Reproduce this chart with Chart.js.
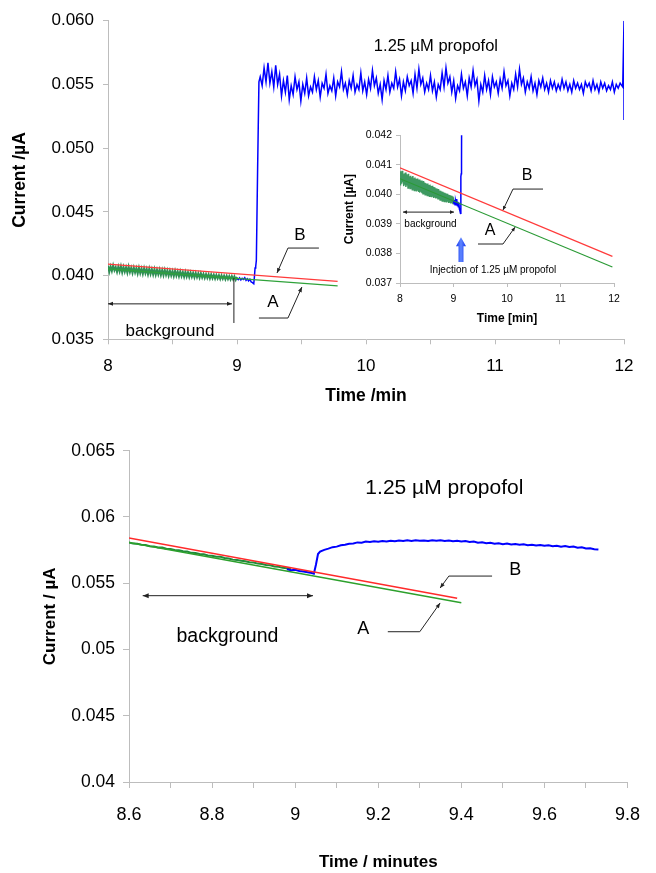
<!DOCTYPE html>
<html>
<head>
<meta charset="utf-8">
<title>Propofol amperometric response</title>
<script src="https://cdn.jsdelivr.net/npm/chart.js@4.4.1/dist/chart.umd.min.js"></script>
<style>
  html, body { margin: 0; padding: 0; background: #fff; }
  #wrap { position: relative; width: 656px; height: 873px; overflow: hidden; }
  canvas { position: absolute; }
  #upper { left: 0; top: 0; }
  #inset { left: 335px; top: 125px; }
  #lower { left: 0; top: 420px; }
</style>
</head>
<body>
<div id="wrap">
  <canvas id="upper" width="656" height="420"></canvas>
  <canvas id="inset" width="300" height="210"></canvas>
  <canvas id="lower" width="656" height="453"></canvas>
</div>
<script>
// ---------- Upper record: 8–12 min, injection of 1.25 µM propofol ----------
// background current (green), sampled every 0.01 min from 8.00 to 9.00 min
const bgStart = 8.00, bgStep = 0.01;
const bgCurrent = [
  0.04078, 0.04030, 0.04072, 0.04036, 0.04080, 0.04041, 0.04066, 0.04028, 0.04071, 0.04033,
  0.04074, 0.04025, 0.04068, 0.04030, 0.04064, 0.04022, 0.04070, 0.04027, 0.04061, 0.04020,
  0.04063, 0.04024, 0.04058, 0.04016, 0.04062, 0.04019, 0.04055, 0.04013, 0.04057, 0.04018,
  0.04052, 0.04010, 0.04054, 0.04012, 0.04049, 0.04008, 0.04050, 0.04006, 0.04046, 0.04009,
  0.04047, 0.04004, 0.04043, 0.04002, 0.04045, 0.04005, 0.04040, 0.03999, 0.04038, 0.04001,
  0.04036, 0.03996, 0.04037, 0.03998, 0.04032, 0.03994, 0.04033, 0.03995, 0.04028, 0.03990,
  0.04029, 0.03992, 0.04025, 0.03988, 0.04024, 0.03990, 0.04021, 0.03986, 0.04020, 0.03987,
  0.04017, 0.03983, 0.04018, 0.03985, 0.04013, 0.03981, 0.04012, 0.03982, 0.04010, 0.03978,
  0.04009, 0.03979, 0.04006, 0.03976, 0.04005, 0.03977, 0.04003, 0.03973, 0.04002, 0.03975,
  0.03999, 0.03971, 0.03998, 0.03972, 0.03996, 0.03969, 0.03995, 0.03970, 0.03993, 0.03967,
  0.03990
];
// response (blue) around the injection
const injTimes = [9.00, 9.01, 9.02, 9.03, 9.04, 9.05, 9.06, 9.07, 9.08, 9.09, 9.10, 9.11, 9.12,
                  9.13, 9.135, 9.14, 9.145, 9.15, 9.16, 9.17];
const injCurrent = [0.03978, 0.03968, 0.03982, 0.03965, 0.03978, 0.03970, 0.03984, 0.03962,
                    0.03975, 0.03958, 0.03972, 0.03950, 0.03945, 0.03936, 0.03990, 0.04060,
                    0.04070, 0.04120, 0.04850, 0.05520];
// steady-state response (blue), every 0.015 min from 9.18 to 11.97 min
const plateauStart = 9.18, plateauStep = 0.015;
const plateauCurrent = [
  0.0556, 0.0549, 0.0563, 0.0552, 0.0567, 0.0551, 0.0560, 0.0548, 0.0565, 0.0550, 0.0558,
  0.0541, 0.0553, 0.0544, 0.0557, 0.0538, 0.0549, 0.0542, 0.0556, 0.0546, 0.0552,
  0.0537, 0.0550, 0.0543, 0.0555, 0.0541, 0.0548, 0.0544, 0.0556,
  0.0546, 0.0553, 0.0540, 0.0551, 0.0547, 0.0558, 0.0543, 0.0549, 0.0545, 0.0555,
  0.0541, 0.0552, 0.0548, 0.0560, 0.0546, 0.0551, 0.0542, 0.0553, 0.0547, 0.0557,
  0.0544, 0.0550, 0.0546, 0.0559, 0.0545, 0.0552,
  0.0542, 0.0554, 0.0547, 0.0561, 0.0549, 0.0555, 0.0543, 0.0550, 0.0538, 0.0553,
  0.0546, 0.0557, 0.0544, 0.0551, 0.0547, 0.0560, 0.0548, 0.0554, 0.0541, 0.0552,
  0.0545, 0.0556, 0.0549, 0.0553, 0.0543, 0.0558, 0.0547, 0.0562, 0.0550, 0.0555,
  0.0544, 0.0551, 0.0546, 0.0557,
  0.0545, 0.0552, 0.0540, 0.0550, 0.0546, 0.0559, 0.0548, 0.0563, 0.0551, 0.0556,
  0.0544, 0.0553, 0.0539, 0.0549, 0.0545, 0.0558, 0.0547, 0.0552, 0.0541, 0.0555,
  0.0548, 0.0561, 0.0549, 0.0554, 0.0537, 0.0550, 0.0544, 0.0557, 0.0546, 0.0553,
  0.0542, 0.0556, 0.0548, 0.0552,
  0.0543, 0.0554, 0.0547, 0.0560, 0.0549, 0.0553, 0.0541, 0.0551, 0.0546, 0.0558,
  0.0548, 0.0562, 0.0550, 0.0555, 0.0544, 0.0552, 0.0547, 0.0556, 0.0545, 0.0551,
  0.0542, 0.0553, 0.0548, 0.0555, 0.0546, 0.0551, 0.0544, 0.0553, 0.0547, 0.0552,
  0.0545, 0.0550, 0.0546, 0.0554,
  0.0547, 0.0552, 0.0545, 0.0550, 0.0544, 0.0553, 0.0547, 0.0551, 0.0546, 0.0550,
  0.0543, 0.0552, 0.0548, 0.0551, 0.0545, 0.0553, 0.0546, 0.0550, 0.0544, 0.0552,
  0.0547, 0.0551, 0.0545, 0.0549, 0.0546, 0.0552, 0.0544, 0.0550, 0.0547, 0.0551
];
// end-of-record switching spike
const endTimes = [11.99, 12.00, 12.00];
const endCurrent = [0.0548, 0.0600, 0.0522];

// extrapolated background fits: A (green) and B (red)
const fitTimesShort = [8.00, 9.78];
const fitAShort = [0.04053, 0.03919];
const fitBShort = [0.04090, 0.03955];
const fitTimesLong = [8.00, 11.97];
const fitALong = [0.04053, 0.03754];
const fitBLong = [0.04090, 0.03790];

// axis ticks
const upperXTicks = [8, 9, 10, 11, 12];
const upperYTicks = [0.035, 0.040, 0.045, 0.050, 0.055, 0.060];
const insetYTicks = [0.037, 0.038, 0.039, 0.040, 0.041, 0.042];

// ---------- Lower record: 8.6–9.8 min ----------
const lowBgStart = 8.60, lowBgStep = 0.01;
const lowBgCurrent = [
  0.05808, 0.05799, 0.05797, 0.05790, 0.05788, 0.05779, 0.05778, 0.05770, 0.05769, 0.05760,
  0.05758, 0.05751, 0.05749, 0.05741, 0.05739, 0.05729, 0.05728, 0.05721, 0.05718, 0.05709,
  0.05707, 0.05700, 0.05699, 0.05690, 0.05687, 0.05678, 0.05676, 0.05669, 0.05666, 0.05658,
  0.05656, 0.05648, 0.05645, 0.05637, 0.05635, 0.05627, 0.05624, 0.05616, 0.05613, 0.05606
];
const lowRiseTimes = [8.98, 8.99, 9.00, 9.01, 9.02, 9.03, 9.04, 9.045, 9.05, 9.055, 9.06];
const lowRiseCurrent = [0.05606, 0.05598, 0.05601, 0.05592, 0.05589, 0.05583, 0.05577, 0.05572,
                        0.05640, 0.05720, 0.05738];
const lowPlateauStart = 9.07, lowPlateauStep = 0.01;
const lowPlateauCurrent = [
  0.05752, 0.05761, 0.05772, 0.05776, 0.05786, 0.05790, 0.05797, 0.05800, 0.05808, 0.05806,
  0.05814, 0.05811, 0.05817, 0.05813, 0.05819, 0.05815, 0.05821, 0.05816, 0.05822, 0.05818,
  0.05824, 0.05819, 0.05825, 0.05820, 0.05823, 0.05818, 0.05824, 0.05820, 0.05825, 0.05819,
  0.05823, 0.05817, 0.05821, 0.05815, 0.05818, 0.05811, 0.05815, 0.05806, 0.05809, 0.05801,
  0.05805, 0.05798, 0.05802, 0.05795, 0.05799, 0.05792, 0.05796, 0.05790, 0.05794, 0.05787,
  0.05791, 0.05784, 0.05789, 0.05782, 0.05786, 0.05779, 0.05783, 0.05776, 0.05781, 0.05774,
  0.05777, 0.05768, 0.05772, 0.05762, 0.05764, 0.05756, 0.05754
];
const lowFitTimesA = [8.60, 9.40];
const lowFitA = [0.05807, 0.05353];
const lowFitTimesB = [8.60, 9.39];
const lowFitB = [0.05842, 0.05387];
const lowerYTicks = [0.040, 0.045, 0.050, 0.055, 0.060, 0.065];
const lowerXTicks = [8.6, 8.8, 9.0, 9.2, 9.4, 9.6, 9.8];

// ---------- helpers ----------
const FONT = "'Liberation Sans', Arial, Helvetica, sans-serif";
const AXIS_GREY = '#bdbdbd';

const pairs = (xs, ys) => ys.map((v, i) => ({ x: xs[i], y: v }));
const sampled = (start, step, ys) => ys.map((v, i) => ({ x: +(start + i * step).toFixed(3), y: v }));

function line(data, color, width) {
  return { data, showLine: true, borderColor: color, borderWidth: width, pointRadius: 0,
           pointHoverRadius: 0, tension: 0, fill: false, spanGaps: true };
}

function arrowHead(ctx, from, to, len, half) {
  const a = Math.atan2(to[1] - from[1], to[0] - from[0]);
  ctx.beginPath();
  ctx.moveTo(to[0], to[1]);
  ctx.lineTo(to[0] - len * Math.cos(a) + half * Math.sin(a), to[1] - len * Math.sin(a) - half * Math.cos(a));
  ctx.lineTo(to[0] - len * Math.cos(a) - half * Math.sin(a), to[1] - len * Math.sin(a) + half * Math.cos(a));
  ctx.closePath();
  ctx.fill();
}

// draws text labels, leader lines and arrows given in data coordinates
function notes(spec) {
  return {
    id: 'notes',
    afterDatasetsDraw(chart) {
      const { ctx, scales: { x, y } } = chart;
      const px = p => [x.getPixelForValue(p[0]), y.getPixelForValue(p[1])];
      ctx.save();
      (spec.paths || []).forEach(path => {
        const pts = path.points.map(px);
        ctx.strokeStyle = path.color || '#222';
        ctx.fillStyle = path.color || '#222';
        ctx.lineWidth = path.width || 1;
        ctx.beginPath();
        pts.forEach((p, i) => i ? ctx.lineTo(p[0], p[1]) : ctx.moveTo(p[0], p[1]));
        ctx.stroke();
        const hl = path.headLen || 6, hw = path.headHalf || 2.5;
        if (path.headEnd) arrowHead(ctx, pts[pts.length - 2], pts[pts.length - 1], hl, hw);
        if (path.headStart) arrowHead(ctx, pts[1], pts[0], hl, hw);
      });
      (spec.blockArrows || []).forEach(b => {
        const [bx, by] = px(b.base);
        const [, ty] = px(b.tip);
        const neck = ty + b.headLen;
        const g = ctx.createLinearGradient(bx - b.headHalf, 0, bx + b.headHalf, 0);
        g.addColorStop(0, '#1133ee');
        g.addColorStop(0.5, '#5f86ff');
        g.addColorStop(1, '#1133ee');
        ctx.fillStyle = g;
        ctx.beginPath();
        ctx.moveTo(bx - b.shaftHalf, by);
        ctx.lineTo(bx - b.shaftHalf, neck);
        ctx.lineTo(bx - b.headHalf, neck);
        ctx.lineTo(bx, ty);
        ctx.lineTo(bx + b.headHalf, neck);
        ctx.lineTo(bx + b.shaftHalf, neck);
        ctx.lineTo(bx + b.shaftHalf, by);
        ctx.closePath();
        ctx.fill();
      });
      (spec.labels || []).forEach(l => {
        const [lx, ly] = px(l.at);
        ctx.font = l.font;
        ctx.fillStyle = '#000';
        ctx.textAlign = l.align || 'center';
        ctx.textBaseline = 'middle';
        ctx.fillText(l.text, lx, ly);
      });
      ctx.restore();
    }
  };
}

function axisX(min, max, step, tickFn, opt) {
  return {
    type: 'linear', min, max,
    afterFit: s => { s.height = opt.height; },
    border: { display: true, color: AXIS_GREY, width: 1 },
    grid: { display: true, drawOnChartArea: false, drawTicks: true, tickLength: opt.tickLength, color: AXIS_GREY },
    ticks: { stepSize: step, autoSkip: false, maxRotation: 0, padding: opt.pad, color: '#000',
             font: { family: FONT, size: opt.tickSize }, callback: tickFn },
    title: { display: true, text: opt.title, color: '#000',
             font: { family: FONT, size: opt.titleSize, weight: 'bold' },
             padding: { top: 0, bottom: opt.titlePad } }
  };
}

function axisY(min, max, step, tickFn, opt) {
  return {
    type: 'linear', min, max,
    afterFit: s => { s.width = opt.width; },
    border: { display: true, color: AXIS_GREY, width: 1 },
    grid: { display: true, drawOnChartArea: false, drawTicks: true, tickLength: opt.tickLength, color: AXIS_GREY },
    ticks: { stepSize: step, autoSkip: false, padding: opt.pad, color: '#000',
             font: { family: FONT, size: opt.tickSize }, callback: tickFn },
    title: { display: true, text: opt.title, color: '#000',
             font: { family: FONT, size: opt.titleSize, weight: 'bold' },
             padding: { top: opt.titlePad, bottom: 0 } }
  };
}

const baseOptions = (padding, scales) => ({
  responsive: false, animation: false, devicePixelRatio: 1,
  layout: { padding },
  plugins: { legend: { display: false }, tooltip: { enabled: false } },
  events: [],
  scales
});

// shared traces
const bgTrace = sampled(bgStart, bgStep, bgCurrent);
const injTrace = pairs(injTimes, injCurrent)
  .concat(sampled(plateauStart, plateauStep, plateauCurrent))
  .concat(pairs(endTimes, endCurrent));

const GREEN_BAND = '#2f8f55';
const GREEN_FIT = '#2fa23a';
const RED_FIT = '#ff3b3b';
const BLUE = '#0000ff';

// ---------- upper chart ----------
new Chart(document.getElementById('upper'), {
  type: 'scatter',
  data: { datasets: [
    line(pairs(fitTimesShort, fitBShort), RED_FIT, 1.2),
    line(pairs(fitTimesShort, fitAShort), GREEN_FIT, 1.2),
    line(injTrace, BLUE, 1.5),
    line(bgTrace, GREEN_BAND, 2)
  ] },
  options: baseOptions({ left: 0, right: 32, top: 20.7, bottom: 0 }, {
    x: axisX(upperXTicks[0], upperXTicks[upperXTicks.length - 1], 0.5,
      v => upperXTicks.includes(v) ? String(v) : '',
      { height: 80.7, tickLength: 5, pad: 12, tickSize: 17, title: 'Time /min', titleSize: 17.5, titlePad: 13.5 }),
    y: axisY(upperYTicks[0], upperYTicks[upperYTicks.length - 1], 0.005,
      v => v.toFixed(3),
      { width: 108, tickLength: 5, pad: 9, tickSize: 17, title: 'Current /µA', titleSize: 17.5, titlePad: 9.5 })
  }),
  plugins: [notes({
    labels: [
      { text: '1.25 µM propofol', at: [10.061, 0.05801], align: 'left', font: `16.5px ${FONT}` },
      { text: 'background', at: [8.48, 0.03562], font: `17px ${FONT}` },
      { text: 'B', at: [9.488, 0.04318], font: `17px ${FONT}` },
      { text: 'A', at: [9.279, 0.03793], font: `17px ${FONT}` }
    ],
    paths: [
      { points: [[8.0, 0.03778], [8.961, 0.03778]], headStart: true, headEnd: true, headLen: 5, headHalf: 2 },
      { points: [[8.976, 0.03981], [8.976, 0.03628]] },
      { points: [[9.635, 0.04216], [9.395, 0.04216], [9.310, 0.04020]], headEnd: true, headLen: 5, headHalf: 2 },
      { points: [[9.170, 0.03667], [9.395, 0.03667], [9.503, 0.03910]], headEnd: true, headLen: 5, headHalf: 2 }
    ]
  })]
});

// ---------- inset ----------
new Chart(document.getElementById('inset'), {
  type: 'scatter',
  data: { datasets: [
    line(pairs(fitTimesLong, fitBLong), RED_FIT, 1.2),
    line(pairs(fitTimesLong, fitALong), '#2a9a35', 1.2),
    line(injTrace, BLUE, 1.5),
    line(bgTrace, '#3d9960', 1.5)
  ] },
  options: baseOptions({ left: 0, right: 21, top: 10, bottom: 0 }, {
    x: axisX(upperXTicks[0], upperXTicks[upperXTicks.length - 1], 1,
      v => String(v),
      { height: 52, tickLength: 4, pad: 6, tickSize: 10.5, title: 'Time [min]', titleSize: 12, titlePad: 8.8 }),
    y: axisY(insetYTicks[0], insetYTicks[insetYTicks.length - 1], 0.001,
      v => v.toFixed(3),
      { width: 65, tickLength: 4, pad: 4, tickSize: 10.5, title: 'Current [µA]', titleSize: 12, titlePad: 7.8 })
  }),
  plugins: [notes({
    labels: [
      { text: 'B', at: [10.374, 0.04065], font: `16px ${FONT}` },
      { text: 'A', at: [9.682, 0.03876], font: `16px ${FONT}` },
      { text: 'background', at: [8.57, 0.03899], font: `10px ${FONT}` },
      { text: 'Injection of 1.25 µM propofol', at: [9.738, 0.03744], font: `10px ${FONT}` }
    ],
    paths: [
      { points: [[8.056, 0.03940], [9.009, 0.03940]], headStart: true, headEnd: true, headLen: 4, headHalf: 1.8 },
      { points: [[10.673, 0.04018], [10.112, 0.04018], [9.925, 0.03947]], headEnd: true, headLen: 4, headHalf: 1.8 },
      { points: [[9.458, 0.03832], [9.925, 0.03832], [10.15, 0.03889]], headEnd: true, headLen: 4, headHalf: 1.8 }
    ],
    blockArrows: [
      { base: [9.14, 0.03771], tip: [9.14, 0.03855], shaftHalf: 2.5, headHalf: 5, headLen: 9 }
    ]
  })]
});

// ---------- lower chart ----------
const lowBlue = pairs(lowRiseTimes, lowRiseCurrent)
  .concat(sampled(lowPlateauStart, lowPlateauStep, lowPlateauCurrent));

new Chart(document.getElementById('lower'), {
  type: 'scatter',
  data: { datasets: [
    line(pairs(lowFitTimesB, lowFitB), '#ff2a2a', 1.5),
    line(pairs(lowFitTimesA, lowFitA), '#2ca02c', 1.5),
    line(lowBlue, BLUE, 2),
    line(sampled(lowBgStart, lowBgStep, lowBgCurrent), '#218a3a', 2)
  ] },
  options: baseOptions({ left: 0, right: 15, top: 30.7, bottom: 0 }, {
    x: axisX(lowerXTicks[0], lowerXTicks[lowerXTicks.length - 1], 0.1,
      v => {
        const r = Math.round(v * 10);
        return r % 2 === 0 ? String(Number((r / 10).toFixed(1))) : '';
      },
      { height: 91, tickLength: 6, pad: 16, tickSize: 18, title: 'Time / minutes', titleSize: 17, titlePad: 0 }),
    y: axisY(lowerYTicks[0], lowerYTicks[lowerYTicks.length - 1], 0.005,
      v => String(Number(v.toFixed(3))),
      { width: 129, tickLength: 6, pad: 8, tickSize: 17.5, title: 'Current / µA', titleSize: 17, titlePad: 39.8 })
  }),
  plugins: [notes({
    labels: [
      { text: '1.25 µM propofol', at: [9.169, 0.06219], align: 'left', font: `21px ${FONT}` },
      { text: 'background', at: [8.837, 0.05094], font: `19.5px ${FONT}` },
      { text: 'B', at: [9.530, 0.05600], font: `18px ${FONT}` },
      { text: 'A', at: [9.164, 0.05154], font: `18px ${FONT}` }
    ],
    paths: [
      { points: [[8.633, 0.05406], [9.043, 0.05406]], headStart: true, headEnd: true, headLen: 6, headHalf: 2.5 },
      { points: [[9.474, 0.05554], [9.370, 0.05554], [9.349, 0.05464]], headEnd: true, headLen: 5, headHalf: 2 },
      { points: [[9.223, 0.05134], [9.300, 0.05134], [9.349, 0.05351]], headEnd: true, headLen: 5, headHalf: 2 }
    ]
  })]
});
</script>
</body>
</html>
